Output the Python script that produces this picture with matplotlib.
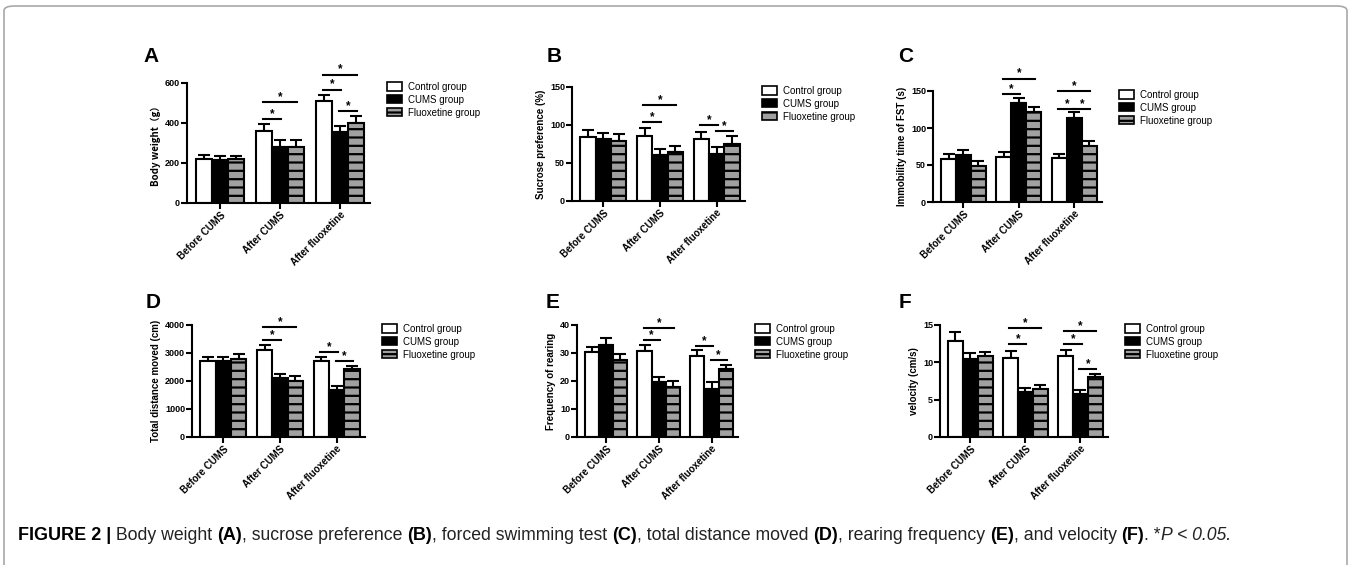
import matplotlib
matplotlib.use("Agg")
import matplotlib.pyplot as plt
from matplotlib.patches import FancyBboxPatch, Patch
import numpy as np

plt.rcParams['font.family'] = ['Liberation Sans', 'DejaVu Sans']
plt.rcParams['hatch.color'] = '#b9b9b9'
plt.rcParams['hatch.linewidth'] = 1.6

W, H = 1352, 565

groups = ["Before CUMS", "After CUMS", "After fluoxetine"]
series = ["Control group", "CUMS group", "Fluoxetine group"]

# means [group][series], upper error bar tops, significance (group, i, j, y)
bw_mean = [[222, 215, 218], [360, 280, 280], [508, 353, 400]]
bw_err = [[242, 235, 235], [397, 313, 313], [542, 387, 433]]
bw_sig = [(1, 0, 1, 418), (1, 0, 2, 503), (2, 0, 1, 567), (2, 0, 2, 642), (2, 1, 2, 460)]

sp_mean = [[84, 81, 79], [85.5, 61, 65], [81, 62, 75]]
sp_err = [[93, 90, 88], [96.5, 69, 73], [91, 71, 85.5]]
sp_sig = [(1, 0, 1, 103.5), (1, 0, 2, 126), (2, 0, 1, 100), (2, 1, 2, 92)]

fst_mean = [[58, 63.5, 49], [61, 134, 121], [60, 113, 76]]
fst_err = [[65, 70, 56], [67, 141, 128.5], [65, 122, 83]]
fst_sig = [(1, 0, 1, 145.5), (1, 0, 2, 166.6), (2, 0, 1, 126), (2, 1, 2, 126), (2, 0, 2, 149.5)]

td_mean = [[2730, 2730, 2790], [3110, 2100, 2000], [2730, 1680, 2430]]
td_err = [[2870, 2870, 2960], [3270, 2250, 2190], [2870, 1830, 2540]]
td_sig = [(1, 0, 1, 3470), (1, 0, 2, 3915), (2, 0, 1, 3020), (2, 1, 2, 2700)]

rf_mean = [[30.5, 32.8, 27.5], [30.8, 19.5, 18.0], [29.0, 17.3, 24.2]]
rf_err = [[32.0, 35.3, 29.5], [33.0, 21.5, 20.0], [31.2, 19.5, 25.7]]
rf_sig = [(1, 0, 1, 34.6), (1, 0, 2, 39.0), (2, 0, 1, 32.5), (2, 1, 2, 27.5)]

ve_mean = [[12.8, 10.4, 10.8], [10.6, 6.0, 6.4], [10.8, 5.8, 8.0]]
ve_err = [[14.1, 11.2, 11.4], [11.5, 6.6, 7.0], [11.7, 6.3, 8.5]]
ve_sig = [(1, 0, 1, 12.4), (1, 0, 2, 14.6), (2, 0, 1, 12.4), (2, 0, 2, 14.2), (2, 1, 2, 9.1)]

panels = [
    ("A", bw_mean, bw_err, bw_sig, "Body weight\uff08g\uff09", 600, [0, 200, 400, 600], (187, 370, 83, 203), (143, 57)),
    ("B", sp_mean, sp_err, sp_sig, "Sucrose preference (%)", 150, [0, 50, 100, 150], (572, 745, 87, 201), (547, 57)),
    ("C", fst_mean, fst_err, fst_sig, "Immobility time of FST (s)", 150, [0, 50, 100, 150], (933, 1102, 91, 202), (898, 57)),
    ("D", td_mean, td_err, td_sig, "Total distance moved (cm)", 4000, [0, 1000, 2000, 3000, 4000], (192, 365, 325, 437), (146, 303)),
    ("E", rf_mean, rf_err, rf_sig, "Frequency of rearing", 40, [0, 10, 20, 30, 40], (577, 738, 325, 437), (546, 303)),
    ("F", ve_mean, ve_err, ve_sig, "velocity (cm/s)", 15, [0, 5, 10, 15], (940, 1108, 325, 437), (899, 303)),
]

faces = ["white", "black", "#a0a0a0"]
hatches = [None, None, "--"]
bw = 0.27

fig = plt.figure(figsize=(W / 100, H / 100), dpi=100)

# rounded frame
frame = FancyBboxPatch((4 / W, -0.2), (W - 9) / W, (H - 6) / H + 0.2,
                       boxstyle="round,pad=0,rounding_size=0.008",
                       transform=fig.transFigure, fill=False,
                       edgecolor="#a8a8a8", linewidth=1.2)
fig.patches.append(frame)

for letter, mean, err, sig, ylab, ymax, yt, (x0, x1, yt0, yb0), (lxp, lyp) in panels:
    ax = fig.add_axes([x0 / W, (H - yb0) / H, (x1 - x0) / W, (yb0 - yt0) / H])
    mean = np.array(mean)
    err = np.array(err)
    x = np.arange(len(groups))
    for k in range(3):
        xs = x + (k - 1) * bw
        ax.bar(xs, mean[:, k], width=bw, color=faces[k], edgecolor="black",
               linewidth=1.5, hatch=hatches[k], zorder=2)
        ax.errorbar(xs, mean[:, k], yerr=[np.zeros(3), err[:, k] - mean[:, k]],
                    fmt="none", ecolor="black", elinewidth=1.5, capsize=4,
                    capthick=1.5, zorder=1)
    for g, i, j, y in sig:
        xa = g + (i - 1) * bw - 0.02
        xb = g + (j - 1) * bw + 0.02
        ax.plot([xa, xb], [y, y], color="black", lw=1.5, clip_on=False)
        ax.annotate("*", ((xa + xb) / 2, y), xytext=(0, 1.5), textcoords="offset points",
                    ha="center", va="baseline", fontsize=8.5, fontweight="bold",
                    annotation_clip=False)
    ax.set_xlim(-0.55, 2.5)
    ax.set_ylim(0, ymax)
    ax.set_yticks(yt)
    ax.set_xticks(x)
    ax.set_xticklabels(groups, rotation=45, ha="right", rotation_mode="anchor",
                       fontsize=7, fontweight="bold")
    for lab in ax.get_yticklabels():
        lab.set_fontsize(6.5)
        lab.set_fontweight("bold")
    ax.set_ylabel(ylab, fontsize=7, fontweight="bold", labelpad=3,
                  family=["Noto Sans CJK SC", "DejaVu Sans"] if letter == "A" else None)
    for s in ["top", "right"]:
        ax.spines[s].set_visible(False)
    for s in ["left", "bottom"]:
        ax.spines[s].set_linewidth(1.5)
    ax.tick_params(width=1.5, length=4, pad=1)
    ax.set_facecolor("none")

    handles = [Patch(facecolor=faces[k], edgecolor="black", hatch=hatches[k], linewidth=1.2)
               for k in range(3)]
    lx = (x1 + 12) / W
    ly = (H - yt0 + 6) / H
    fig.legend(handles, series, loc="upper left", bbox_to_anchor=(lx, ly),
               frameon=False, fontsize=7, handlelength=1.6, handleheight=0.9,
               handletextpad=0.6, labelspacing=0.3, borderpad=0)

    fig.text(lxp / W, (H - lyp) / H, letter, fontsize=15,
             fontweight="bold", ha="left", va="center")

# caption
caption = [
    ("FIGURE 2 |", "bold", "normal"),
    (" Body weight ", "normal", "normal"),
    ("(A)", "bold", "normal"),
    (", sucrose preference ", "normal", "normal"),
    ("(B)", "bold", "normal"),
    (", forced swimming test ", "normal", "normal"),
    ("(C)", "bold", "normal"),
    (", total distance moved ", "normal", "normal"),
    ("(D)", "bold", "normal"),
    (", rearing frequency ", "normal", "normal"),
    ("(E)", "bold", "normal"),
    (", and velocity ", "normal", "normal"),
    ("(F)", "bold", "normal"),
    (". *", "normal", "normal"),
    ("P < 0.05.", "normal", "italic"),
]
fig.canvas.draw()
r = fig.canvas.get_renderer()
cx = 18
for txt, wt, st in caption:
    t = fig.text(cx / W, (H - 535) / H, txt, fontsize=13 if wt == "bold" else 12.7,
                 fontweight=wt, fontstyle=st, ha="left", va="center",
                 color="black" if wt == "bold" else "#222222")
    bb = t.get_window_extent(renderer=r)
    cx += bb.width

fig.savefig("out.png", dpi=100)
